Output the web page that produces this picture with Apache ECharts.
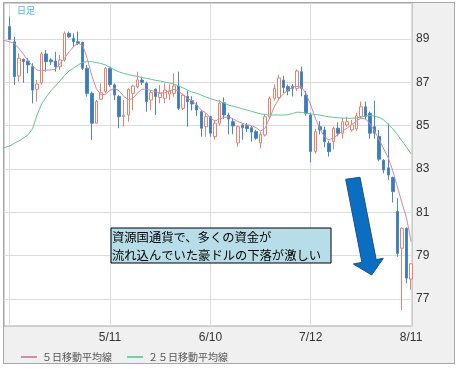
<!DOCTYPE html>
<html><head><meta charset="utf-8">
<script src="https://cdn.jsdelivr.net/npm/echarts@6/dist/echarts.min.js"></script>
<style>
html,body{margin:0;padding:0;background:#fff;}
#frame{position:absolute;left:3px;top:2px;width:452px;height:362px;box-sizing:border-box;border:1px solid #a8a8a8;background:#f0f0f0;}
#chart{position:absolute;left:0;top:0;width:457px;height:369px;}
</style></head><body>
<div id="frame"></div><div id="chart"></div>
<script>
// ---- data (trading-day index 0 = 4/11) ----
const tickIdx = [22, 44, 66, 88];
const tickLabels = ['5/11', '6/10', '7/12', '8/11'];
const gridIdx = [0, 22, 44, 66, 88];
const yTicks = [77, 79, 81, 83, 85, 87, 89];

const openP = [89.57,88.87,87.29,88.06,87.98,87.72,86.68,86.98,88.31,88.03,
87.98,87.72,88.03,89.26,89.03,88.87,88.84,87.65,86.49,85.11,
86.22,86.57,87.65,86.88,86.34,85.42,85.49,86.49,86.80,87.10,
86.95,86.18,86.68,86.30,86.26,86.45,86.49,86.83,85.80,86.35,
86.15,85.95,85.64,84.95,85.41,84.49,85.11,86.05,85.49,85.18,
84.20,85.03,85.00,84.90,84.72,84.20,84.57,85.41,86.26,86.30,
87.10,86.80,86.82,86.72,87.49,86.41,85.49,83.80,84.95,84.80,
84.19,84.26,84.88,84.65,85.03,84.80,84.85,85.41,85.87,85.57,
84.95,84.50,83.40,83.05,82.60,81.03,79.34,80.26,77.92];
const closeP = [88.98,87.26,88.11,87.95,87.80,86.64,86.92,88.31,87.95,87.95,
87.72,88.03,89.26,89.10,88.87,88.80,87.65,86.49,85.11,86.11,
86.52,87.65,86.90,86.41,85.41,85.48,86.68,86.83,87.11,87.00,
86.11,86.52,86.34,86.49,86.64,86.60,86.83,85.80,86.41,86.10,
86.00,85.72,84.88,85.41,84.65,85.11,86.03,85.49,85.30,84.98,
84.95,84.90,84.86,84.70,84.42,84.60,85.41,86.26,86.72,87.20,
86.75,86.60,86.72,87.52,86.72,85.57,83.80,84.72,84.80,84.26,
83.80,84.88,84.65,85.18,85.18,85.03,85.45,85.87,85.41,84.65,
84.65,83.45,82.95,82.72,81.95,79.10,80.26,77.96,78.62];
const lowP = [88.95,86.88,87.03,86.98,87.42,86.03,86.11,86.88,87.49,87.80,
87.49,87.57,87.95,89.03,88.64,88.72,87.57,86.34,84.34,85.11,
86.18,86.49,86.80,86.18,84.88,84.95,85.18,85.72,86.72,86.88,
85.64,85.72,85.49,86.03,86.03,86.18,86.34,85.72,85.72,84.95,
85.70,85.45,84.49,84.49,84.49,84.35,85.00,85.30,84.60,84.60,
84.03,84.35,84.70,84.26,84.35,83.95,84.50,85.35,86.15,86.20,
86.50,86.40,86.35,86.60,86.35,85.45,83.30,83.70,84.60,84.00,
83.57,83.90,84.50,84.40,84.95,84.72,84.75,85.35,85.30,84.40,
84.40,83.35,82.80,82.50,81.45,78.95,76.49,77.72,77.42];
const highP = [90.03,89.10,88.34,88.10,88.11,87.88,87.11,88.41,88.49,88.11,
88.41,88.26,89.34,89.34,89.26,89.34,88.87,87.80,86.57,86.18,
86.95,87.72,87.72,86.95,86.41,86.18,86.72,86.88,87.49,87.26,
87.03,86.64,86.72,86.88,86.95,86.90,87.42,87.49,86.49,86.60,
86.35,86.10,85.70,85.57,85.45,85.26,86.20,86.30,85.60,85.35,
85.00,85.11,85.12,85.00,84.80,84.70,85.50,86.35,86.90,87.35,
87.30,86.90,86.92,87.60,87.72,86.60,85.60,84.85,85.20,84.95,
84.30,84.95,85.15,85.35,85.41,85.26,85.60,86.11,86.11,85.65,
86.15,84.80,83.45,85.10,82.65,81.65,80.30,80.30,78.65];

// moving averages, starting at index -2
const maStart = -2;
const ma5 = [88.95,88.92,88.87,88.80,88.57,88.3,88.0,87.75,87.56,87.54,
87.56,87.57,87.6,87.85,88.1,88.4,88.65,88.8,88.7,88.1,
87.3,86.7,86.42,86.45,86.63,86.72,86.6,86.35,86.2,86.25,
86.5,86.68,86.68,86.62,86.56,86.51,86.51,86.6,86.67,86.6,
86.41,86.25,86.14,85.95,85.72,85.58,85.35,85.21,85.31,85.38,
85.40,85.31,85.19,85.11,85.04,85.0,84.91,84.75,84.89,85.35,
85.86,86.23,86.46,86.64,86.78,86.81,86.78,86.46,85.95,85.35,
84.85,84.48,84.34,84.43,84.59,84.75,84.89,85.05,85.21,85.34,
85.31,85.08,84.75,84.34,83.92,83.51,82.91,82.17,81.43,80.74,79.64];
const ma25 = [83.92,83.99,84.06,84.18,84.29,84.43,84.57,84.85,85.49,86.0,
86.32,86.6,86.83,87.06,87.31,87.52,87.66,87.80,87.92,87.95,
87.95,87.91,87.87,87.80,87.68,87.57,87.48,87.41,87.36,87.31,
87.27,87.22,87.18,87.14,87.09,87.06,87.01,86.97,86.92,86.83,
86.74,86.64,86.55,86.49,86.41,86.32,86.25,86.18,86.12,86.04,
85.95,85.89,85.84,85.77,85.72,85.66,85.60,85.54,85.51,85.49,
85.49,85.49,85.49,85.50,85.56,85.62,85.61,85.57,85.54,85.51,
85.49,85.44,85.41,85.38,85.36,85.35,85.34,85.34,85.35,85.40,
85.44,85.47,85.44,85.38,85.26,85.05,84.85,84.59,84.29,84.01,83.69];

const seriesNames = ['５日移動平均線', '２５日移動平均線'];
const periodLabel = '日足';
const noteLines = ['資源国通貨で、多くの資金が', '流れ込んでいた豪ドルの下落が激しい'];

// ---- build ----
const labelMap = {};
tickIdx.forEach((v, i) => { labelMap[v] = tickLabels[i]; });
const candleData = openP.map((o, i) => [i, o, closeP[i], lowP[i], highP[i]]);
const ma5Data = ma5.map((v, i) => [i + maStart, v]);
const ma25Data = ma25.map((v, i) => [i + maStart, v]);

const chart = echarts.init(document.getElementById('chart'), null, { renderer: 'canvas' });
const jp = '"Noto Sans CJK JP", sans-serif';
chart.setOption({
  animation: false,
  backgroundColor: 'transparent',
  grid: { left: 4, top: 3, width: 408, height: 323, show: true, backgroundColor: '#ffffff', borderColor: '#a6a6a6', borderWidth: 1 },
  xAxis: {
    type: 'value', min: -1.25, max: 88.2,
    axisLine: { show: false },
    axisTick: { show: false, customValues: gridIdx },
    splitLine: { show: true, lineStyle: { color: '#dddddd', width: 1 } },
    axisLabel: { customValues: tickIdx, formatter: v => labelMap[v] || '', color: '#333', fontSize: 12, margin: 6, fontFamily: '"Liberation Sans", Arial, sans-serif' }
  },
  yAxis: {
    type: 'value', position: 'right', min: 75.75, max: 90.66,
    axisLine: { show: false },
    axisTick: { show: false, customValues: yTicks },
    splitLine: { show: true, lineStyle: { color: '#dddddd', width: 1 } },
    axisLabel: { customValues: yTicks, color: '#333', fontSize: 12, margin: 4, fontFamily: '"Liberation Sans", Arial, sans-serif' }
  },
  legend: {
    left: 16, top: 347, icon: 'rect', itemWidth: 16, itemHeight: 2, itemGap: 15,
    textStyle: { fontSize: 10, color: '#555', fontFamily: jp },
    data: seriesNames
  },
  series: [
    {
      type: 'candlestick', name: 'price', data: candleData,
      encode: { x: 0, y: [1, 2, 3, 4] },
      barWidth: 3,
      itemStyle: { color: '#ffffff', color0: '#3a7bbf', borderColor: '#e6836b', borderColor0: '#4a88c4', borderWidth: 1 }
    },
    {
      type: 'line', name: seriesNames[0], data: ma5Data, showSymbol: false, symbol: 'none',
      color: '#d08cab', lineStyle: { width: 1, color: '#cf88a8' }, z: 3
    },
    {
      type: 'line', name: seriesNames[1], data: ma25Data, showSymbol: false, symbol: 'none',
      color: '#6fd2a2', lineStyle: { width: 1, color: '#5cc891' }, z: 3
    }
  ],
  graphic: [
    { type: 'text', x: 17, y: 11, z: 10, style: { text: periodLabel, fill: '#45b6ea', font: '9px ' + jp, verticalAlign: 'middle' } },
    { type: 'rect', z: 10, shape: { x: 111, y: 228, width: 220, height: 35 }, style: { fill: '#b7dde8', stroke: '#000', lineWidth: 1 } },
    { type: 'text', z: 11, x: 112, y: 237, style: { text: noteLines[0], fill: '#000', font: '12.3px ' + jp, verticalAlign: 'middle' } },
    { type: 'text', z: 11, x: 112, y: 255.5, style: { text: noteLines[1], fill: '#000', font: '12.3px ' + jp, verticalAlign: 'middle' } },
    { type: 'polygon', z: 10, shape: { points: [[345.7,179.3],[360,177.3],[376.2,259.6],[383.3,258.3],[371.7,275],[353.3,264],[361.9,262.4]] },
      style: { fill: '#0a6fc2', stroke: '#1d4f8a', lineWidth: 1 } }
  ]
});
</script></body></html>
